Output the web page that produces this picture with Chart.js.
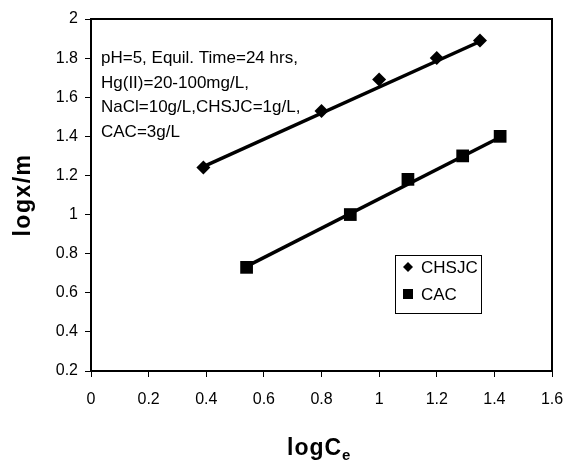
<!DOCTYPE html>
<html>
<head>
<meta charset="utf-8">
<script src="https://cdn.jsdelivr.net/npm/chart.js@4.4.1/dist/chart.umd.min.js"></script>
<style>
  html, body { margin: 0; padding: 0; background: #fff; }
  #wrap { width: 566px; height: 461px; }
</style>
</head>
<body>
<div id="wrap"><canvas id="freundlich" width="566" height="461"></canvas></div>
<script>
// values
const chsjcX = [0.39, 0.80, 1.00, 1.20, 1.35];
const chsjcY = [1.24, 1.53, 1.69, 1.80, 1.89];
const cacX = [0.54, 0.90, 1.10, 1.29, 1.42];
const cacY = [0.73, 1.00, 1.18, 1.30, 1.40];

// fitted lines, end points only
const chsjcFitX = [0.39, 1.35];
const chsjcFitY = [1.245, 1.885];
const cacFitX = [0.54, 1.42];
const cacFitY = [0.735, 1.395];

const noteLines = [
  'pH=5, Equil. Time=24 hrs,',
  'Hg(II)=20-100mg/L,',
  'NaCl=10g/L,CHSJC=1g/L,',
  'CAC=3g/L'
];

const FONT = '"Liberation Sans", Arial, sans-serif';

const toPts = (xs, ys) => xs.map((x, i) => ({ x: x, y: ys[i] }));

// box, note, legend and axis titles
const extras = {
  id: 'extras',
  afterDraw(chart) {
    const ctx = chart.ctx;
    const a = chart.chartArea;
    ctx.save();

    // top + right frame
    ctx.strokeStyle = '#000';
    ctx.lineWidth = 2;
    ctx.beginPath();
    ctx.moveTo(a.left, a.top);
    ctx.lineTo(a.right, a.top);
    ctx.lineTo(a.right, a.bottom);
    ctx.stroke();

    // conditions note
    ctx.fillStyle = '#000';
    ctx.font = '17px ' + FONT;
    ctx.textAlign = 'left';
    ctx.textBaseline = 'alphabetic';
    noteLines.forEach((t, i) => ctx.fillText(t, 101, 63 + i * 24.7));

    // legend
    ctx.lineWidth = 1;
    ctx.strokeRect(395.5, 255.5, 86, 58);
    ctx.beginPath();
    ctx.moveTo(408, 262); ctx.lineTo(413, 267); ctx.lineTo(408, 272); ctx.lineTo(403, 267);
    ctx.closePath();
    ctx.fill();
    ctx.fillRect(403, 289, 10, 10);
    ctx.font = '17px ' + FONT;
    ctx.textBaseline = 'middle';
    ctx.fillText(chart.data.datasets[0].label, 421, 268);
    ctx.fillText(chart.data.datasets[1].label, 421, 295);

    // y title
    ctx.save();
    ctx.translate(30, 195);
    ctx.rotate(-Math.PI / 2);
    ctx.font = 'bold 23px ' + FONT;
    ctx.letterSpacing = '1.5px';
    ctx.textAlign = 'center';
    ctx.textBaseline = 'alphabetic';
    ctx.fillText('logx/m', 0, 0);
    ctx.restore();

    // x title with subscript
    ctx.font = 'bold 23px ' + FONT;
    ctx.textAlign = 'left';
    ctx.textBaseline = 'alphabetic';
    ctx.letterSpacing = '1px';
    ctx.fillText('logC', 287, 455);
    const w = ctx.measureText('logC').width;
    ctx.font = 'bold 15px ' + FONT;
    ctx.fillText('e', 287 + w, 460);

    ctx.restore();
  }
};

const tickFmt = v => String(Number(v.toFixed(1)));

new Chart(document.getElementById('freundlich').getContext('2d'), {
  type: 'scatter',
  data: {
    datasets: [
      {
        label: 'CHSJC',
        data: toPts(chsjcX, chsjcY),
        pointStyle: 'rectRot',
        pointRadius: 7,
        backgroundColor: '#000',
        borderColor: '#000',
        borderWidth: 0
      },
      {
        label: 'CAC',
        data: toPts(cacX, cacY),
        pointStyle: 'rect',
        pointRadius: 9,
        backgroundColor: '#000',
        borderColor: '#000',
        borderWidth: 0
      },
      {
        label: 'fit CHSJC',
        data: toPts(chsjcFitX, chsjcFitY),
        showLine: true,
        pointRadius: 0,
        borderColor: '#000',
        borderWidth: 3.5
      },
      {
        label: 'fit CAC',
        data: toPts(cacFitX, cacFitY),
        showLine: true,
        pointRadius: 0,
        borderColor: '#000',
        borderWidth: 3.5
      }
    ]
  },
  options: {
    responsive: false,
    animation: false,
    layout: { padding: { left: 0, top: 19, right: 14, bottom: 0 } },
    plugins: {
      legend: { display: false },
      tooltip: { enabled: false }
    },
    scales: {
      x: {
        type: 'linear',
        min: 0,
        max: 1.6,
        afterFit: s => { s.height = 90; s.paddingLeft = 0; s.paddingRight = 0; },
        border: { color: '#000', width: 2 },
        grid: { drawOnChartArea: false, drawTicks: true, tickLength: 6, color: '#000' },
        ticks: {
          stepSize: 0.2,
          padding: 13,
          color: '#000',
          font: { family: FONT, size: 16 },
          callback: tickFmt
        }
      },
      y: {
        type: 'linear',
        min: 0.2,
        max: 2,
        afterFit: s => { s.width = 91; s.paddingTop = 0; s.paddingBottom = 0; },
        border: { color: '#000', width: 2 },
        grid: { drawOnChartArea: false, drawTicks: true, tickLength: 6, color: '#000' },
        ticks: {
          stepSize: 0.2,
          padding: 7,
          color: '#000',
          font: { family: FONT, size: 16 },
          callback: tickFmt
        }
      }
    }
  },
  plugins: [extras]
});
</script>
</body>
</html>
